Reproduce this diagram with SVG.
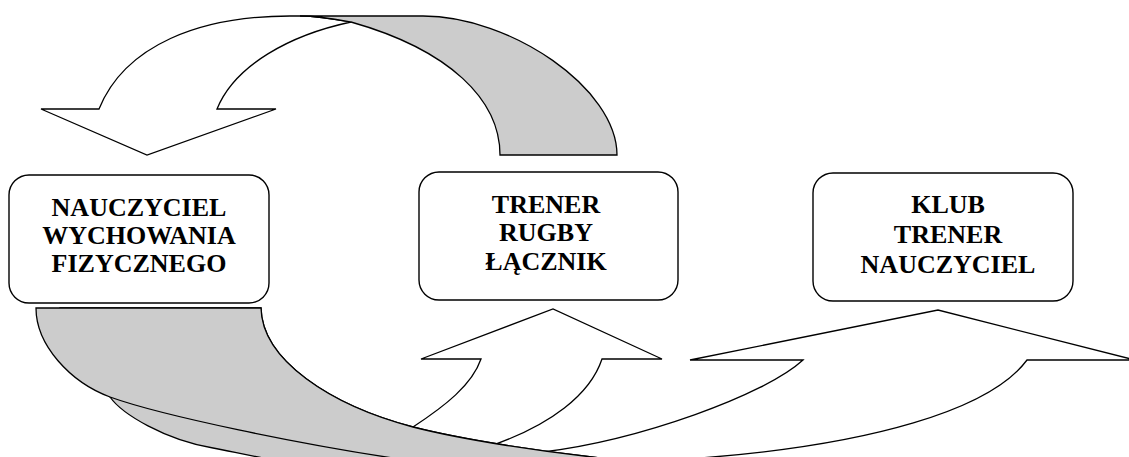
<svg xmlns="http://www.w3.org/2000/svg" width="1129" height="457" viewBox="0 0 1129 457">
<style>
.box{fill:#ffffff;stroke:#000000;stroke-width:1.4}
.wh{fill:#ffffff;stroke:#000000;stroke-width:1.3;stroke-linejoin:miter}
.gr{fill:#cccccc;stroke:#000000;stroke-width:1.3;stroke-linejoin:miter}
.lbl{font-family:"Liberation Serif","Times New Roman",serif;font-weight:bold;font-size:26px;fill:#000000;text-anchor:middle}
</style>
<rect width="1129" height="457" fill="#ffffff"/>
<g id="connectors">
  <g id="arrow-top">
    <path class="wh" d="M 99,109 C 125,45 200,16 290,16 L 300,16 C 320,16 335,19 351,22 C 290,35 235,65 217,109 L 276,109 L 147,155 L 41,109 Z"/>
    <path class="gr" d="M 300,16 L 423,16 C 510,16 617,88 617,155 L 500,155 C 500,100 450,50 351,22 C 335,19 320,16 300,16 Z"/>
  </g>
  <g id="arrow-to-klub-front">
    <path class="wh" d="M 543,452 C 640,440 765,395 803,360 L 690,360 L 938,310 L 1135,360 L 1027,360 C 990,410 870,445 700,458 L 700,480 L 540,480 Z"/>
  </g>
  <g id="arrow-to-trener-front">
    <path class="wh" d="M 413,427 C 445,406 472,385 481,359 L 421,359 L 553,309 L 662,359 L 602,359 C 590,395 550,425 493,445 L 470,475 L 420,475 Z"/>
  </g>
  <g id="arrow-to-klub-back">
    <path class="gr" d="M 60,308 L 261,308 C 262,360 330,405 413,427 C 460,439 540,452 620,460 L 620,480 L 280,480 L 275,460 C 250,456 230,451 213,448 C 165,440 122,414 110,397 C 85,378 62,350 60,308 Z"/>
  </g>
  <g id="arrow-to-trener-back">
    <path class="gr" d="M 36,308 L 261,308 C 262,360 330,405 413,427 C 460,439 540,452 620,460 L 620,480 L 420,480 L 420,462 C 300,445 160,415 110,397 C 70,382 36,345 36,308 Z"/>
  </g>
</g>
<g id="node-nauczyciel-wf">
  <rect class="box" x="9" y="175" width="260" height="128" rx="20" ry="20"/>
  <text class="lbl" x="139" y="216">NAUCZYCIEL</text>
  <text class="lbl" x="139" y="244">WYCHOWANIA</text>
  <text class="lbl" x="139" y="272">FIZYCZNEGO</text>
</g>
<g id="node-trener-rugby">
  <rect class="box" x="419" y="172" width="259" height="128" rx="20" ry="20"/>
  <text class="lbl" x="546" y="213">TRENER</text>
  <text class="lbl" x="546" y="241">RUGBY</text>
  <text class="lbl" x="546" y="270">ŁĄCZNIK</text>
</g>
<g id="node-klub">
  <rect class="box" x="813" y="173" width="260" height="128" rx="20" ry="20"/>
  <text class="lbl" x="948" y="213">KLUB</text>
  <text class="lbl" x="948" y="243">TRENER</text>
  <text class="lbl" x="948" y="273">NAUCZYCIEL</text>
</g>
</svg>
